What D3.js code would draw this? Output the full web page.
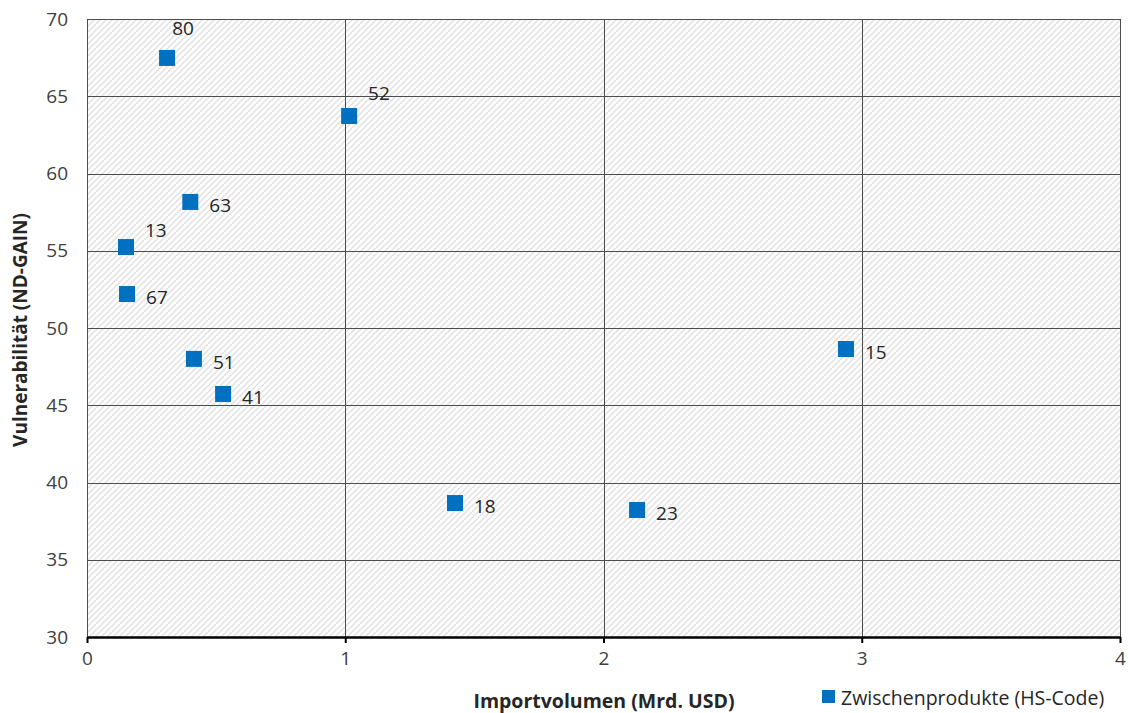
<!DOCTYPE html>
<html><head><meta charset="utf-8">
<script src="https://cdn.jsdelivr.net/npm/d3@7/dist/d3.min.js"></script>
<style>body{margin:0;background:#fff;} text{font-family:"Open Sans","DejaVu Sans",sans-serif;}</style>
</head><body><svg id="c" width="1128" height="713"></svg>
<script>
const codes   = ["80","52","63","13","67","51","41","15","18","23"];
const importV = [0.31,1.015,0.40,0.151,0.155,0.414,0.527,2.939,1.425,2.13];
const vuln    = [67.48,63.72,58.16,55.24,52.2,48.0,45.73,48.64,38.67,38.22];
const labelPos = ["above","aboveRightHigh","right","aboveRight","right","right","right","right","right","right"];
const xTicks = [0,1,2,3,4];
const yTicks = [30,35,40,45,50,55,60,65,70];
const seriesName = "Zwischenprodukte (HS-Code)";
const xTitle = "Importvolumen (Mrd. USD)";
const yTitle = "Vulnerabilität (ND-GAIN)";

const svg = d3.select("#c");
const L=87,R=1120,T=19,B=637;
const x = d3.scaleLinear().domain([0,4]).range([L,R]);
const y = d3.scaleLinear().domain([30,70]).range([B,T]);

const defs = svg.append("defs");
const pat = defs.append("pattern").attr("id","hatch").attr("patternUnits","userSpaceOnUse")
  .attr("width",6).attr("height",6);
pat.append("rect").attr("width",6).attr("height",6).attr("fill","#fff");
pat.append("path").attr("d","M-1,7 L7,-1 M-4,4 L4,-4 M2,10 L10,2").attr("stroke","#e0e0e0").attr("stroke-width",1.4);

svg.append("rect").attr("x",L).attr("y",T).attr("width",R-L).attr("height",B-T).attr("fill","url(#hatch)");

// gridlines
svg.append("g").selectAll("line").data(yTicks.filter(d=>d>30)).join("line")
  .attr("x1",L).attr("x2",R).attr("y1",d=>Math.round(y(d))+0.5).attr("y2",d=>Math.round(y(d))+0.5)
  .attr("stroke","#4d4d4d").attr("stroke-width",1);
svg.append("g").selectAll("line").data(xTicks).join("line")
  .attr("y1",T).attr("y2",B).attr("x1",d=>Math.round(x(d))+0.5).attr("x2",d=>Math.round(x(d))+0.5)
  .attr("stroke","#4d4d4d").attr("stroke-width",1);
svg.append("line").attr("x1",R+0.5).attr("x2",R+0.5).attr("y1",T).attr("y2",B).attr("stroke","#4d4d4d");

// x axis
const xa = svg.append("g").attr("transform",`translate(0,${B})`)
  .call(d3.axisBottom(x).tickValues(xTicks).tickSize(6).tickSizeOuter(0).tickFormat(d3.format("d")));
xa.select(".domain").attr("stroke","#000").attr("stroke-width",2.5);
xa.selectAll(".tick line").attr("stroke","#000").attr("stroke-width",2);
xa.selectAll(".tick text").attr("font-size",19).attr("fill","#404040").attr("dy","1.0em")
  .attr("font-family","Open Sans, sans-serif");

// y axis labels
const ya = svg.append("g").attr("transform",`translate(${L},0)`)
  .call(d3.axisLeft(y).tickValues(yTicks).tickSize(0).tickFormat(d3.format("d")));
ya.select(".domain").remove();
ya.selectAll(".tick text").attr("font-size",19).attr("fill","#404040").attr("x",-19)
  .attr("font-family","Open Sans, sans-serif");

// points
const pts = codes.map((c,i)=>({c,x:importV[i],y:vuln[i],p:labelPos[i]}));
const s=16;
svg.append("g").selectAll("rect").data(pts).join("rect")
  .attr("x",d=>x(d.x)-s/2).attr("y",d=>y(d.y)-s/2).attr("width",s).attr("height",s)
  .attr("fill","#0070C0");

const off = {above:[16,-30,"middle"], aboveRight:[19,-17,"start"], aboveRightHigh:[19,-23,"start"], right:[19,3,"start"]};
svg.append("g").selectAll("text").data(pts).join("text")
  .attr("x",d=>x(d.x)+off[d.p][0]).attr("y",d=>y(d.y)+off[d.p][1])
  .attr("text-anchor",d=>off[d.p][2]).attr("dominant-baseline","central")
  .attr("font-size",19).attr("fill","#262626").text(d=>d.c);

// titles
svg.append("text").attr("x",604).attr("y",700).attr("text-anchor","middle").attr("dominant-baseline","central")
  .attr("font-size",19.5).attr("font-weight","bold").attr("fill","#262626").text(xTitle);
svg.append("text").attr("transform","translate(20,330) rotate(-90)").attr("text-anchor","middle").attr("dominant-baseline","central")
  .attr("font-size",19).attr("font-weight","bold").attr("fill","#262626").text(yTitle);

// legend
const lg = svg.append("g").attr("transform","translate(822,690)");
lg.append("rect").attr("width",13).attr("height",13).attr("fill","#0070C0");
lg.append("text").attr("x",19).attr("y",7).attr("dominant-baseline","central").attr("font-size",19.5)
  .attr("fill","#262626").text(seriesName);
</script></body></html>
